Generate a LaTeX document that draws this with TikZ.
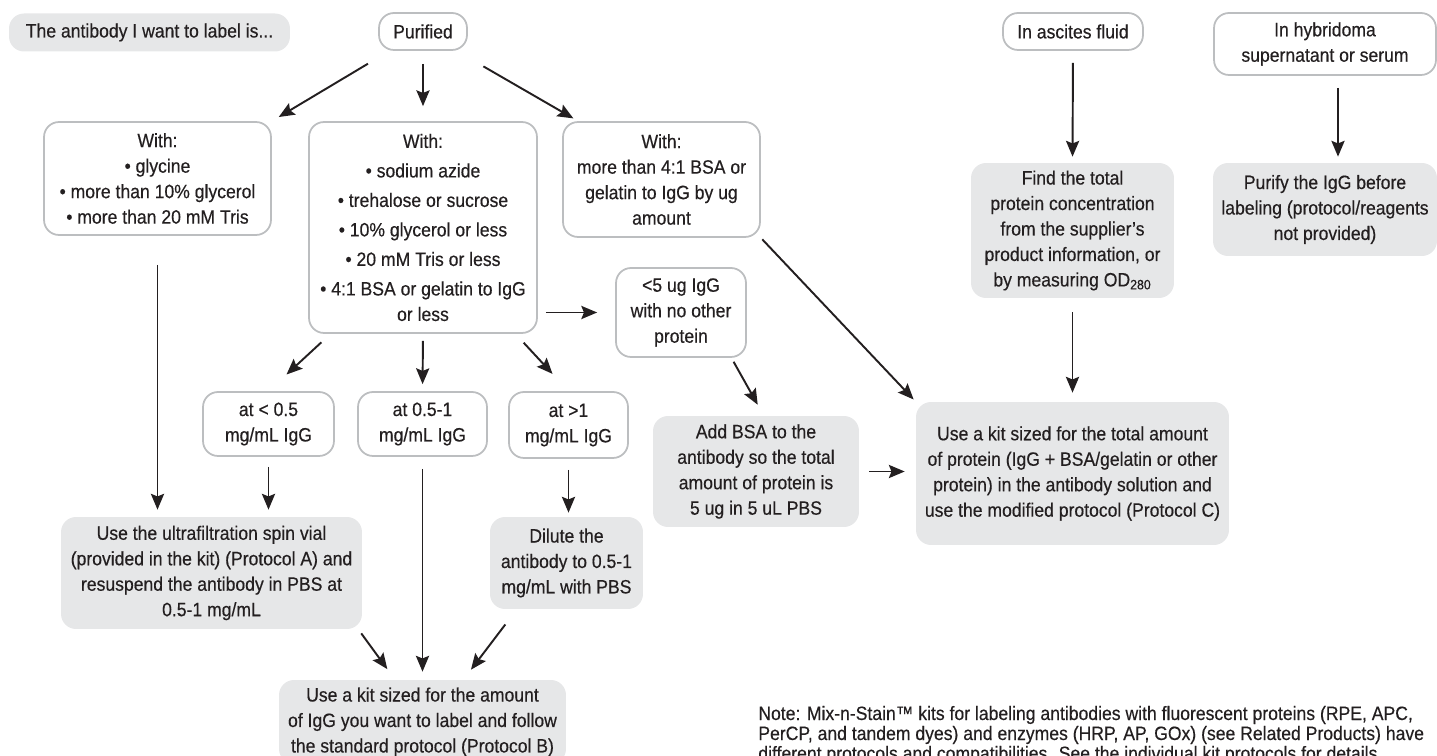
\documentclass[tikz,border=0pt]{standalone}
\usepackage{fontspec}
\setmainfont{Liberation Sans}[FakeStretch=0.91, FakeBold=0.4]
\usetikzlibrary{arrows.meta}

\definecolor{boxgray}{HTML}{E6E7E8}
\definecolor{edgegray}{HTML}{BCBEC0}
\definecolor{ink}{HTML}{231F20}

\begin{document}
\begin{tikzpicture}[x=0.02cm, y=-0.02cm,
  every node/.append style={text=ink, align=center, inner sep=0pt,
    font=\fontsize{11}{14.5}\selectfont},
  choice/.style={draw=edgegray, line width=1pt, rounded corners=0.3cm, fill=white},
  action/.style={fill=boxgray, rounded corners=0.3cm},
  remark/.style={anchor=base west, align=left},
  flow/.style={-{Stealth[length=9pt,width=7.5pt,inset=1.5pt]}, line width=1.1pt, draw=ink}]

  \useasboundingbox (0,0) rectangle (1437,756);
  \clip (0,0) rectangle (1437,756);

  % Start

  \node [action, minimum width=5.62cm, minimum height=0.76cm] (ttl) at (149.5,32.5)
    {The antibody I want to label is...};

  % Purified

  \node [choice, minimum width=1.76cm, minimum height=0.74cm] (pur) at (423,31.5) {Purified};
  \node [choice, minimum width=4.54cm, minimum height=2.26cm] (wgl) at (157.5,178.5)
    {With:\\ • glycine\\ • more than 10\% glycerol\\ • more than 20 mM Tris};
  \node [choice, minimum width=4.56cm, minimum height=4.22cm] (waz) at (423,227.5)
    {With:\\[2.3pt] • sodium azide\\[2.3pt] • trehalose or sucrose\\[2.3pt]
     • 10\% glycerol or less\\[2.3pt] • 20 mM Tris or less\\[2.3pt]
     • 4:1 BSA or gelatin to IgG\\ or less};
  \node [choice, minimum width=3.94cm, minimum height=2.3cm] (wbs) at (661.5,179.5)
    {With:\\ more than 4:1 BSA or\\ gelatin to IgG by ug\\ amount};
  \node [choice, minimum width=2.6cm, minimum height=1.78cm] (lt5) at (681,312.5)
    {<5 ug IgG\\ with no other\\ protein};
  \node [choice, minimum width=2.62cm, minimum height=1.28cm] (low) at (268.5,424)
    {at < 0.5\\ mg/mL IgG};
  \node [choice, minimum width=2.58cm, minimum height=1.28cm] (mid) at (422.5,424)
    {at 0.5-1\\ mg/mL IgG};
  \node [choice, minimum width=2.38cm, minimum height=1.32cm] (hig) at (568.5,425)
    {at >1\\ mg/mL IgG};
  \node [action, minimum width=6.02cm, minimum height=2.24cm] (ufl) at (211.5,573)
    {Use the ultrafiltration spin vial\\ (provided in the kit) (Protocol A) and\\
     resuspend the antibody in PBS at\\ 0.5-1 mg/mL};
  \node [action, minimum width=3.06cm, minimum height=1.84cm] (dil) at (566.5,563)
    {Dilute the\\ antibody to 0.5-1\\ mg/mL with PBS};
  \node [action, minimum width=5.74cm, minimum height=1.68cm] (kib) at (422.5,722)
    {Use a kit sized for the amount\\ of IgG you want to label and follow\\
     the standard protocol (Protocol B)};
  \node [action, minimum width=4.12cm, minimum height=2.22cm] (bsa) at (756,471.5)
    {Add BSA to the\\ antibody so the total\\ amount of protein is\\ 5 ug in 5 uL PBS};
  \node [action, minimum width=6.26cm, minimum height=2.86cm] (kic) at (1072.5,473.5)
    {Use a kit sized for the total amount\\ of protein (IgG + BSA/gelatin or other\\
     protein) in the antibody solution and\\ use the modified protocol (Protocol C)};

  % Ascites

  \node [choice, minimum width=2.8cm, minimum height=0.74cm] (asc) at (1073,31.5)
    {In ascites fluid};
  \node [action, minimum width=4.06cm, minimum height=2.7cm] (fnd) at (1072.5,230.5)
    {Find the total\\ protein concentration\\ from the supplier’s\\
     product information, or\\ by measuring OD\smash{\textsubscript{280}}};

  % Hybridoma

  \node [choice, minimum width=4.44cm, minimum height=1.24cm] (hyb) at (1325,44)
    {In hybridoma\\ supernatant or serum};
  \node [action, minimum width=4.48cm, minimum height=1.86cm] (pig) at (1325,209.5)
    {Purify the IgG before\\ labeling (protocol/reagents\\ not provided)};

  % Note

  \node [remark] (nt1) at (758,720)
    {Note: Mix-n-Stain™ kits for labeling antibodies with fluorescent proteins (RPE, APC,};
  \node [remark] (nt2) at (758,740)
    {PerCP, and tandem dyes) and enzymes (HRP, AP, GOx) (see Related Products) have};
  \node [remark] (nt3) at (758,760)
    {different protocols and compatibilities. See the individual kit protocols for details.};

  % Connections

  \draw [flow, shorten <=0.5cm, shorten >=0.16cm] (pur.-150) -- (wgl.north east);
  \draw [flow, shorten <=0.26cm, shorten >=0.3cm] (pur.south) -- (waz.north);
  \draw [flow, shorten <=0.62cm, shorten >=0.11cm] (pur.-30) -- (wbs.145);
  \draw [flow, shorten <=0.58cm, shorten >=0.14cm] (wgl.south) -- (wgl.south |- ufl.north);
  \draw [flow, shorten <=0.25cm, shorten >=0.49cm] (waz.-131) -- (low.north);
  \draw [flow, shorten <=0.14cm, shorten >=0.14cm] (waz.south) -- (mid.north);
  \draw [flow, shorten <=0.24cm, shorten >=0.47cm] (waz.-49) -- (hig.north);
  \draw [flow, shorten <=0.16cm, shorten >=0.36cm] (waz.east |- lt5.west) -- (lt5.west);
  \draw [flow, shorten <=0.04cm, shorten >=0.06cm] (wbs.south east) -- (kic.north west);
  \draw [flow, shorten <=0.09cm, shorten >=0.25cm] (lt5.-42) -- (bsa.82);
  \draw [flow, shorten <=0.2cm, shorten >=0.22cm] (bsa.east) -- (bsa.east -| kic.west);
  \draw [flow, shorten <=0.2cm, shorten >=0.14cm] (low.south) -- (low.south |- ufl.north);
  \draw [flow, shorten <=0.24cm, shorten >=0.16cm] (mid.south) -- (kib.north);
  \draw [flow, shorten <=0.22cm, shorten >=0.08cm] (hig.south) -- (hig.south |- dil.north);
  \draw [flow, shorten <=0.1cm, shorten >=0.26cm] (ufl.-21.5) -- (kib.123);
  \draw [flow, shorten <=0.38cm, shorten >=0.25cm] (dil.-137) -- (kib.46);
  \draw [flow, shorten <=0.24cm, shorten >=0.12cm] (asc.south) -- (fnd.north);
  \draw [flow, shorten <=0.28cm, shorten >=0.18cm] (fnd.south) -- (kic.north);
  \draw [flow, shorten <=0.24cm, shorten >=0.12cm]
    ([xshift=0.26cm]hyb.south) -- ([xshift=0.26cm]pig.north);
\end{tikzpicture}
\end{document}
